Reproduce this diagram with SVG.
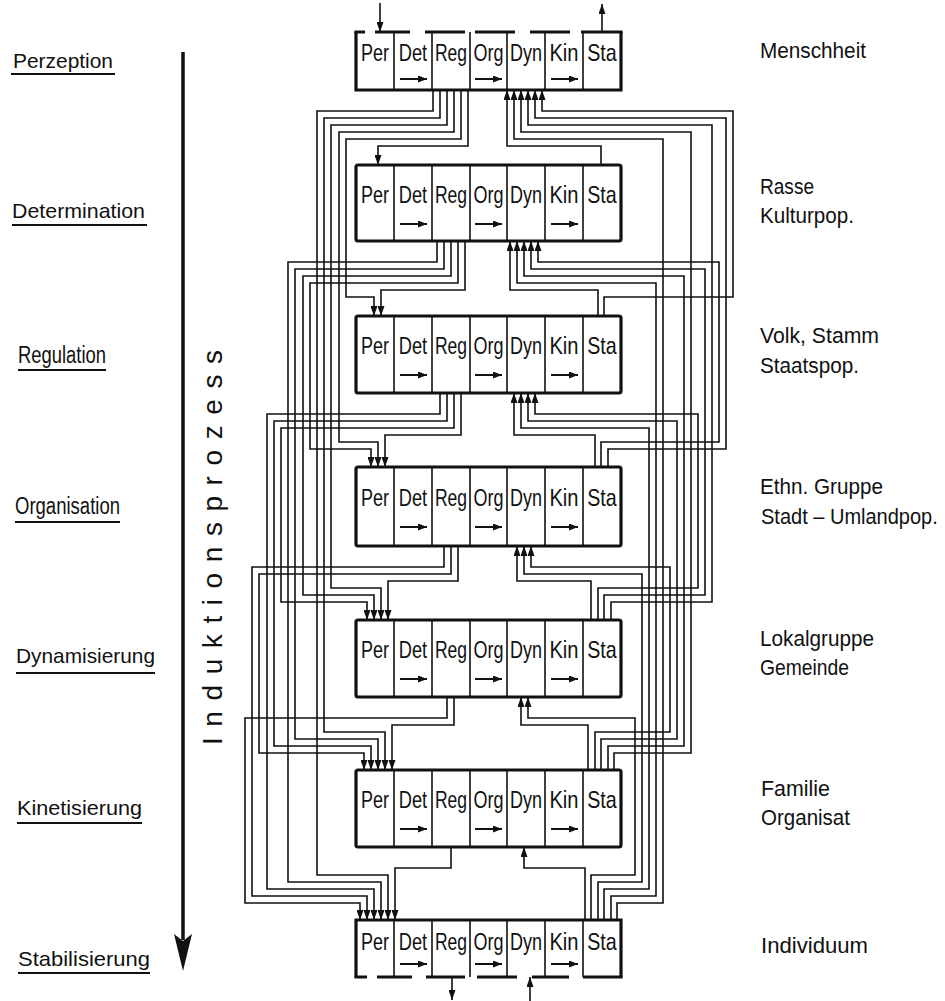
<svg xmlns="http://www.w3.org/2000/svg" width="945" height="1001" viewBox="0 0 945 1001">
<style>
.frame{fill:#fff;stroke:#111;stroke-width:3.2;stroke-linejoin:round}
.edge{fill:none;stroke:#111;stroke-width:3.2;stroke-linecap:butt}
.div{fill:none;stroke:#111;stroke-width:1.6}
.cell{font-family:"Liberation Sans",Arial,sans-serif;font-size:24px;fill:#111;text-anchor:middle}
.lab{font-family:"Liberation Sans",Arial,sans-serif;font-size:21px;fill:#111}
.rlab{font-family:"Liberation Sans",Arial,sans-serif;font-size:22px;fill:#111}
.ind{font-family:"Liberation Sans",Arial,sans-serif;font-size:28px;fill:#111}
.ul{stroke:#111;stroke-width:2}
.con{fill:none;stroke:#111;stroke-width:1.6;marker-end:url(#ah)}
.inarr{fill:none;stroke:#111;stroke-width:2;marker-end:url(#ih)}
</style>
<defs>
<marker id="ah" viewBox="0 0 10 7" refX="10" refY="3.5" markerWidth="10" markerHeight="7" markerUnits="userSpaceOnUse" orient="auto"><path d="M0,0L10,3.5L0,7z" fill="#111"/></marker>
<marker id="ih" viewBox="0 0 9 7" refX="9" refY="3.5" markerWidth="9" markerHeight="7" markerUnits="userSpaceOnUse" orient="auto"><path d="M0,0L9,3.5L0,7z" fill="#111"/></marker>
</defs>
<rect x="0" y="0" width="945" height="1001" fill="#fff"/>

<g id="labels-left">
<text class="lab" x="13" y="68" textLength="100" lengthAdjust="spacingAndGlyphs">Perzeption</text>
<path class="ul" d="M11,74H115"/>
<text class="lab" x="12" y="218" textLength="133" lengthAdjust="spacingAndGlyphs">Determination</text>
<path class="ul" d="M12,225H147"/>
<text class="lab" x="18" y="363" style="font-size:23px" textLength="88" lengthAdjust="spacingAndGlyphs">Regulation</text>
<path class="ul" d="M18,370H106"/>
<text class="lab" x="15" y="514" style="font-size:23px" textLength="105" lengthAdjust="spacingAndGlyphs">Organisation</text>
<path class="ul" d="M15,522H120"/>
<text class="lab" x="16" y="663" textLength="139" lengthAdjust="spacingAndGlyphs">Dynamisierung</text>
<path class="ul" d="M16,673H155"/>
<text class="lab" x="17" y="815" textLength="125" lengthAdjust="spacingAndGlyphs">Kinetisierung</text>
<path class="ul" d="M17,823H142"/>
<text class="lab" x="18" y="966" textLength="132" lengthAdjust="spacingAndGlyphs">Stabilisierung</text>
<path class="ul" d="M18,973H150"/>
</g>

<g id="induktion">
<path d="M183,52V940" stroke="#111" stroke-width="3.5" fill="none"/>
<path d="M174,934L183,971L192,934L183,941z" fill="#111"/>
<text class="ind" transform="translate(222,745) rotate(-90)" textLength="395" lengthAdjust="spacing">Induktionsprozess</text>
</g>

<g id="labels-right">
<text class="rlab" x="760" y="58" textLength="106" lengthAdjust="spacingAndGlyphs">Menschheit</text>
<text class="rlab" x="760" y="194" textLength="54" lengthAdjust="spacingAndGlyphs">Rasse</text>
<text class="rlab" x="760" y="223" textLength="94" lengthAdjust="spacingAndGlyphs">Kulturpop.</text>
<text class="rlab" x="760" y="343" textLength="119" lengthAdjust="spacingAndGlyphs">Volk, Stamm</text>
<text class="rlab" x="760" y="373" textLength="99" lengthAdjust="spacingAndGlyphs">Staatspop.</text>
<text class="rlab" x="760" y="494" textLength="123" lengthAdjust="spacingAndGlyphs">Ethn. Gruppe</text>
<text class="rlab" transform="translate(761,524) scale(.91,1)">Stadt – Umlandpop.</text>
<text class="rlab" x="760" y="646" textLength="114" lengthAdjust="spacingAndGlyphs">Lokalgruppe</text>
<text class="rlab" x="760" y="675" textLength="89" lengthAdjust="spacingAndGlyphs">Gemeinde</text>
<text class="rlab" x="761" y="796" textLength="69" lengthAdjust="spacingAndGlyphs">Familie</text>
<text class="rlab" x="761" y="825" textLength="89" lengthAdjust="spacingAndGlyphs">Organisat</text>
<text class="rlab" x="761" y="953" textLength="107" lengthAdjust="spacingAndGlyphs">Individuum</text>
</g>

<g id="connectors">
<path class="con" d="M468,90V146H378V165"/>
<path class="con" d="M461,90V139H346V297H374V316"/>
<path class="con" d="M454,90V132H339V442H378V467"/>
<path class="con" d="M447,90V125H331V588H381V620"/>
<path class="con" d="M440,90V118H324V732H385V770"/>
<path class="con" d="M433,90V111H317V875H388V920"/>
<path class="con" d="M465,241V290H381V316"/>
<path class="con" d="M458,241V283H310V449H371V467"/>
<path class="con" d="M451,241V276H303V595H374V620"/>
<path class="con" d="M444,241V269H295V739H378V770"/>
<path class="con" d="M437,241V262H288V882H381V920"/>
<path class="con" d="M461,393V435H385V467"/>
<path class="con" d="M454,393V428H281V602H367V620"/>
<path class="con" d="M447,393V421H274V746H371V770"/>
<path class="con" d="M440,393V414H267V889H374V920"/>
<path class="con" d="M458,546V581H388V620"/>
<path class="con" d="M451,546V574H259V753H364V770"/>
<path class="con" d="M444,546V567H252V896H367V920"/>
<path class="con" d="M454,697V725H392V770"/>
<path class="con" d="M447,697V718H245V903H360V920"/>
<path class="con" d="M451,847V868H395V920"/>
<path class="con" d="M601,165V146H507V90"/>
<path class="con" d="M604,316V297H733V111H542V90"/>
<path class="con" d="M608,467V449H726V118H535V90"/>
<path class="con" d="M611,620V602H712V125H528V90"/>
<path class="con" d="M614,770V753H691V132H521V90"/>
<path class="con" d="M617,920V903H663V139H514V90"/>
<path class="con" d="M598,316V290H510V241"/>
<path class="con" d="M601,467V442H719V262H538V241"/>
<path class="con" d="M604,620V595H705V269H531V241"/>
<path class="con" d="M608,770V746H684V276H524V241"/>
<path class="con" d="M611,920V896H656V283H517V241"/>
<path class="con" d="M595,467V435H514V393"/>
<path class="con" d="M598,620V588H698V414H535V393"/>
<path class="con" d="M601,770V739H677V421H528V393"/>
<path class="con" d="M604,920V889H649V428H521V393"/>
<path class="con" d="M591,620V581H517V546"/>
<path class="con" d="M595,770V732H670V567H531V546"/>
<path class="con" d="M598,920V882H642V574H524V546"/>
<path class="con" d="M588,770V725H521V697"/>
<path class="con" d="M591,920V875H635V718H528V697"/>
<path class="con" d="M585,920V868H524V847"/>
<path class="con" d="M380,3V32"/>
<path class="con" d="M602,32V4"/>
<path class="con" d="M452,977V1000"/>
<path class="con" d="M530,1001V977"/>
</g>

<g id="box1">
<rect x="356" y="32" width="265" height="58" fill="#fff"/>
<path class="edge" d="M356,32V90H621V32"/>
<path class="edge" d="M354.4,32H365M375,32H410M425,32H465M475,32H515M530,32H570M581,32H622.6"/>
<path class="div" d="M394,32V90M432,32V90M470,32V90M507,32V90M545,32V90M583,32V90"/>
<g transform="translate(0,61)">
<text class="cell" transform="translate(375,0) scale(.75,1)">Per</text>
<text class="cell" transform="translate(413,0) scale(.76,1)">Det</text>
<text class="cell" transform="translate(451,0) scale(.73,1)">Reg</text>
<text class="cell" transform="translate(488.5,0) scale(.75,1)">Org</text>
<text class="cell" transform="translate(526,0) scale(.75,1)">Dyn</text>
<text class="cell" transform="translate(564,0) scale(.84,1)">Kin</text>
<text class="cell" transform="translate(602,0) scale(.82,1)">Sta</text>
</g>
<path class="inarr" d="M400,79H427"/><path class="inarr" d="M475,79H502"/><path class="inarr" d="M551,79H578"/>
</g>

<g id="box2" transform="translate(0,165)">
<rect class="frame" x="356" y="0" width="265" height="76" rx="2"/>
<path class="div" d="M394,0V76M432,0V76M470,0V76M507,0V76M545,0V76M583,0V76"/>
<g transform="translate(0,38)">
<text class="cell" transform="translate(375,0) scale(.75,1)">Per</text>
<text class="cell" transform="translate(413,0) scale(.76,1)">Det</text>
<text class="cell" transform="translate(451,0) scale(.73,1)">Reg</text>
<text class="cell" transform="translate(488.5,0) scale(.75,1)">Org</text>
<text class="cell" transform="translate(526,0) scale(.75,1)">Dyn</text>
<text class="cell" transform="translate(564,0) scale(.84,1)">Kin</text>
<text class="cell" transform="translate(602,0) scale(.82,1)">Sta</text>
</g>
<path class="inarr" d="M400,59H427"/><path class="inarr" d="M475,59H502"/><path class="inarr" d="M551,59H578"/>
</g>

<g id="box3" transform="translate(0,316)">
<rect class="frame" x="356" y="0" width="265" height="77" rx="2"/>
<path class="div" d="M394,0V77M432,0V77M470,0V77M507,0V77M545,0V77M583,0V77"/>
<g transform="translate(0,38)">
<text class="cell" transform="translate(375,0) scale(.75,1)">Per</text>
<text class="cell" transform="translate(413,0) scale(.76,1)">Det</text>
<text class="cell" transform="translate(451,0) scale(.73,1)">Reg</text>
<text class="cell" transform="translate(488.5,0) scale(.75,1)">Org</text>
<text class="cell" transform="translate(526,0) scale(.75,1)">Dyn</text>
<text class="cell" transform="translate(564,0) scale(.84,1)">Kin</text>
<text class="cell" transform="translate(602,0) scale(.82,1)">Sta</text>
</g>
<path class="inarr" d="M400,59H427"/><path class="inarr" d="M475,59H502"/><path class="inarr" d="M551,59H578"/>
</g>

<g id="box4" transform="translate(0,467)">
<rect class="frame" x="356" y="0" width="265" height="79" rx="2"/>
<path class="div" d="M394,0V79M432,0V79M470,0V79M507,0V79M545,0V79M583,0V79"/>
<g transform="translate(0,39)">
<text class="cell" transform="translate(375,0) scale(.75,1)">Per</text>
<text class="cell" transform="translate(413,0) scale(.76,1)">Det</text>
<text class="cell" transform="translate(451,0) scale(.73,1)">Reg</text>
<text class="cell" transform="translate(488.5,0) scale(.75,1)">Org</text>
<text class="cell" transform="translate(526,0) scale(.75,1)">Dyn</text>
<text class="cell" transform="translate(564,0) scale(.84,1)">Kin</text>
<text class="cell" transform="translate(602,0) scale(.82,1)">Sta</text>
</g>
<path class="inarr" d="M400,60H427"/><path class="inarr" d="M475,60H502"/><path class="inarr" d="M551,60H578"/>
</g>

<g id="box5" transform="translate(0,620)">
<rect class="frame" x="356" y="0" width="265" height="77" rx="2"/>
<path class="div" d="M394,0V77M432,0V77M470,0V77M507,0V77M545,0V77M583,0V77"/>
<g transform="translate(0,38)">
<text class="cell" transform="translate(375,0) scale(.75,1)">Per</text>
<text class="cell" transform="translate(413,0) scale(.76,1)">Det</text>
<text class="cell" transform="translate(451,0) scale(.73,1)">Reg</text>
<text class="cell" transform="translate(488.5,0) scale(.75,1)">Org</text>
<text class="cell" transform="translate(526,0) scale(.75,1)">Dyn</text>
<text class="cell" transform="translate(564,0) scale(.84,1)">Kin</text>
<text class="cell" transform="translate(602,0) scale(.82,1)">Sta</text>
</g>
<path class="inarr" d="M400,59H427"/><path class="inarr" d="M475,59H502"/><path class="inarr" d="M551,59H578"/>
</g>

<g id="box6" transform="translate(0,770)">
<rect class="frame" x="356" y="0" width="265" height="77" rx="2"/>
<path class="div" d="M394,0V77M432,0V77M470,0V77M507,0V77M545,0V77M583,0V77"/>
<g transform="translate(0,38)">
<text class="cell" transform="translate(375,0) scale(.75,1)">Per</text>
<text class="cell" transform="translate(413,0) scale(.76,1)">Det</text>
<text class="cell" transform="translate(451,0) scale(.73,1)">Reg</text>
<text class="cell" transform="translate(488.5,0) scale(.75,1)">Org</text>
<text class="cell" transform="translate(526,0) scale(.75,1)">Dyn</text>
<text class="cell" transform="translate(564,0) scale(.84,1)">Kin</text>
<text class="cell" transform="translate(602,0) scale(.82,1)">Sta</text>
</g>
<path class="inarr" d="M400,59H427"/><path class="inarr" d="M475,59H502"/><path class="inarr" d="M551,59H578"/>
</g>

<g id="box7">
<rect x="356" y="920" width="265" height="57" fill="#fff"/>
<path class="edge" d="M356,977V920H621V977"/>
<path class="edge" d="M354.4,977H367M377,977H412M426,977H465M477,977H517M532,977H569M583,977H622.6"/>
<path class="div" d="M394,920V977M432,920V977M470,920V977M507,920V977M545,920V977M583,920V977"/>
<g transform="translate(0,950)">
<text class="cell" transform="translate(375,0) scale(.75,1)">Per</text>
<text class="cell" transform="translate(413,0) scale(.76,1)">Det</text>
<text class="cell" transform="translate(451,0) scale(.73,1)">Reg</text>
<text class="cell" transform="translate(488.5,0) scale(.75,1)">Org</text>
<text class="cell" transform="translate(526,0) scale(.75,1)">Dyn</text>
<text class="cell" transform="translate(564,0) scale(.84,1)">Kin</text>
<text class="cell" transform="translate(602,0) scale(.82,1)">Sta</text>
</g>
<path class="inarr" d="M400,964H427"/><path class="inarr" d="M475,964H502"/><path class="inarr" d="M551,964H578"/>
</g>
</svg>
